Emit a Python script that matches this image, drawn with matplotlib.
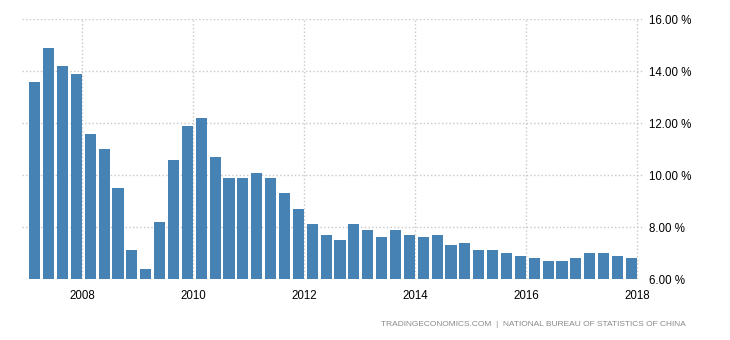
import matplotlib.pyplot as plt
import numpy as np

# China GDP annual growth rate, quarterly, 2007Q1 - 2017Q4
quarters = ['2007Q1', '2007Q2', '2007Q3', '2007Q4',
            '2008Q1', '2008Q2', '2008Q3', '2008Q4',
            '2009Q1', '2009Q2', '2009Q3', '2009Q4',
            '2010Q1', '2010Q2', '2010Q3', '2010Q4',
            '2011Q1', '2011Q2', '2011Q3', '2011Q4',
            '2012Q1', '2012Q2', '2012Q3', '2012Q4',
            '2013Q1', '2013Q2', '2013Q3', '2013Q4',
            '2014Q1', '2014Q2', '2014Q3', '2014Q4',
            '2015Q1', '2015Q2', '2015Q3', '2015Q4',
            '2016Q1', '2016Q2', '2016Q3', '2016Q4',
            '2017Q1', '2017Q2', '2017Q3', '2017Q4']
growth = [13.6, 14.9, 14.2, 13.9,
          11.6, 11.0, 9.5, 7.1,
          6.4, 8.2, 10.6, 11.9,
          12.2, 10.7, 9.9, 9.9,
          10.1, 9.9, 9.3, 8.7,
          8.1, 7.7, 7.5, 8.1,
          7.9, 7.6, 7.9, 7.7,
          7.6, 7.7, 7.3, 7.4,
          7.1, 7.1, 7.0, 6.9,
          6.8, 6.7, 6.7, 6.8,
          7.0, 7.0, 6.9, 6.8]
year_ticks = [2008, 2010, 2012, 2014, 2016, 2018]
y_ticks = [6, 8, 10, 12, 14, 16]

plt.rcParams['font.family'] = ['Liberation Sans', 'DejaVu Sans']

# quarter end dates as fractional years
x = np.array([int(q[:4]) + int(q[-1]) * 0.25 for q in quarters]) - 0.1
vals = np.array(growth)
base = 6.0

fig = plt.figure(figsize=(7.3, 3.4), dpi=100)
ax = fig.add_axes([22 / 730, 61 / 340, (643 - 22) / 730, (279 - 19.3) / 340])

ax.bar(x, vals - base, bottom=base, width=0.2, color='#4682b4', zorder=2)

ax.set_xlim(2006.92, 2018.11)
ax.set_ylim(6, 16)
ax.set_xticks(year_ticks)
ax.set_xticklabels([str(y) for y in year_ticks])
ax.set_yticks(y_ticks)
ax.set_yticklabels(['%.2f %%' % v for v in y_ticks])
ax.yaxis.tick_right()

ax.grid(True, linestyle=':', color='#c8c8c8', linewidth=1, zorder=0)
for s in ax.spines.values():
    s.set_visible(False)
ax.tick_params(axis='both', length=0, labelsize=8.3, colors='#000000')
ax.tick_params(axis='x', pad=8)
ax.tick_params(axis='y', pad=4)

fig.text(686 / 730, 1 - 324 / 340,
         'TRADINGECONOMICS.COM  |  NATIONAL BUREAU OF STATISTICS OF CHINA',
         ha='right', va='center', fontsize=6, color='#8a8a8a')

fig.savefig('out.png', dpi=100)
